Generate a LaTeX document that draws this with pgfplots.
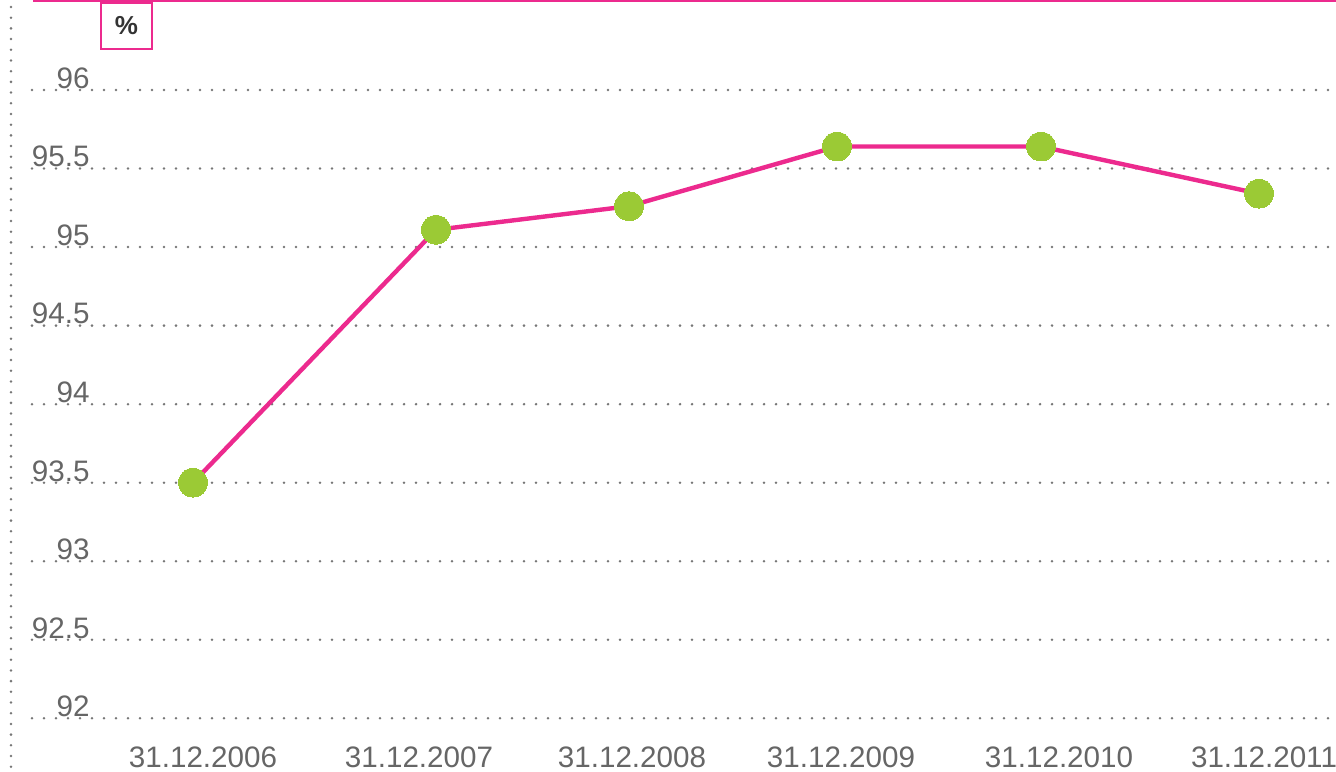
\documentclass[border=0pt]{standalone}
\usepackage{pgfplots}
\pgfplotsset{compat=1.18}
\usepackage{fontspec}
\setmainfont{Liberation Sans}
\definecolor{linepink}{HTML}{EC2A8E}
\definecolor{dotgreen}{HTML}{9BCA35}
\definecolor{txtgray}{HTML}{666666}
\definecolor{gridgray}{HTML}{777777}
\begin{document}
\begin{tikzpicture}
\begin{axis}[
  at={(16pt,0pt)}, anchor=south west,
  scale only axis,
  width=652pt, height=385.5pt,
  xmin=32, xmax=1336,
  ymin=91.6645, ymax=96.573,
  axis line style={draw=none},
  clip=false,
  major tick length=0pt,
  xtick={203,419,632,841,1059,1264},
  xticklabels={31.12.2006,31.12.2007,31.12.2008,31.12.2009,31.12.2010,31.12.2011},
  ytick={92,92.5,93,93.5,94,94.5,95,95.5,96},
  yticklabels={92,92.5,93,93.5,94,94.5,95,95.5,96},
  ymajorgrids,
  major grid style={draw=gridgray, line width=1.4pt, line cap=round, dash pattern=on 0pt off 6pt},
  ticklabel style={font=\fontsize{14.8}{16}\selectfont, text=txtgray},
  xticklabel style={anchor=base, inner sep=0pt, yshift=2pt},
  yticklabel style={anchor=south east, inner sep=0pt, xshift=29pt, yshift=0.5pt},
  /pgf/number format/assume math mode=true,
]
\addplot[color=linepink, line width=2.2pt, mark=*, mark size=7.2pt,
  mark options={draw=dotgreen, fill=dotgreen, line width=0pt}]
  coordinates {
  (193,93.50)
  (436,95.11)
  (629,95.26)
  (837,95.64)
  (1041,95.64)
  (1259,95.34)
  };
\end{axis}
% top pink rule
\draw[linepink, line width=1pt] (16.5pt,385pt) -- (668pt,385pt);
% left dotted rule
\draw[gridgray, line width=1.4pt, line cap=round, dash pattern=on 0pt off 5.35pt] (5.5pt,382pt) -- (5.5pt,0pt);
% percent box
\node[draw=linepink, line width=0.75pt, minimum width=25.5pt, minimum height=23pt, inner sep=0pt,
  font=\bfseries\fontsize{13}{14}\selectfont, text=black!80] at (63.25pt,372.5pt) {\%};
\pgfresetboundingbox
\path (0,0) rectangle (668pt,385.5pt);
\end{tikzpicture}
\end{document}
